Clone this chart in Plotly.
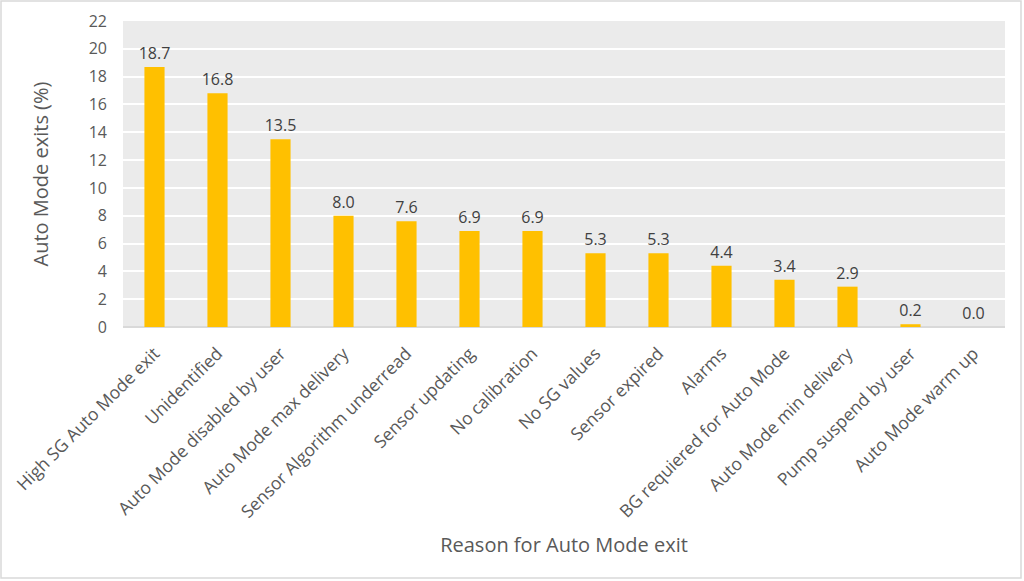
import plotly.graph_objects as go

categories = ["High SG Auto Mode exit", "Unidentified", "Auto Mode disabled by user",
              "Auto Mode max delivery", "Sensor Algorithm underread", "Sensor updating",
              "No calibration", "No SG values", "Sensor expired", "Alarms",
              "BG requiered for Auto Mode", "Auto Mode min delivery",
              "Pump suspend by user", "Auto Mode warm up"]
values = [18.7, 16.8, 13.5, 8.0, 7.6, 6.9, 6.9, 5.3, 5.3, 4.4, 3.4, 2.9, 0.2, 0.0]
y_ticks = list(range(0, 23, 2))

FONT = "Open Sans"
W, H = 1024, 581
ml, mr, mt, mb = 123, 19, 21, 254
pw, ph = W - ml - mr, H - mt - mb

fig = go.Figure(go.Bar(
    x=categories, y=values,
    marker=dict(color="#FFC000", line=dict(width=0)),
    text=[f"{v:.1f}" for v in values], textposition="outside",
    textfont=dict(family=FONT, size=16, color="#404040"),
    cliponaxis=False, constraintext="none",
))

fig.update_layout(
    width=W, height=H,
    margin=dict(l=ml, r=mr, t=mt, b=mb, autoexpand=False),
    paper_bgcolor="white", plot_bgcolor="#EBEBEB",
    bargap=0.68, showlegend=False,
    font=dict(family=FONT, color="#595959"),
    shapes=[dict(type="rect", xref="paper", yref="paper",
                 x0=(1 - ml) / pw, x1=(W - 3 - ml) / pw,
                 y0=-(H - 3 - mt - ph) / ph, y1=1 + (mt - 1) / ph,
                 line=dict(color="#D9D9D9", width=1.5), layer="below")],
)
fig.update_xaxes(
    tickangle=-45, tickfont=dict(size=17.5, color="#595959"),
    title=dict(text="Reason for Auto Mode exit", font=dict(size=20, color="#595959"), standoff=16),
    showline=False, ticks="", automargin=False, ticklabelstandoff=12,
)
fig.update_yaxes(
    range=[0, 22], tickvals=y_ticks, tickfont=dict(size=16, color="#595959"),
    title=dict(text="Auto Mode exits (%)", font=dict(size=20, color="#595959"), standoff=34),
    gridcolor="white", gridwidth=1.5, zeroline=True, zerolinecolor="#D9D9D9", zerolinewidth=1.5,
    ticks="", ticklabelstandoff=15, automargin=False,
)

fig.write_html("out.html", config={"displayModeBar": False},
               post_script="document.body.style.margin='0';")
